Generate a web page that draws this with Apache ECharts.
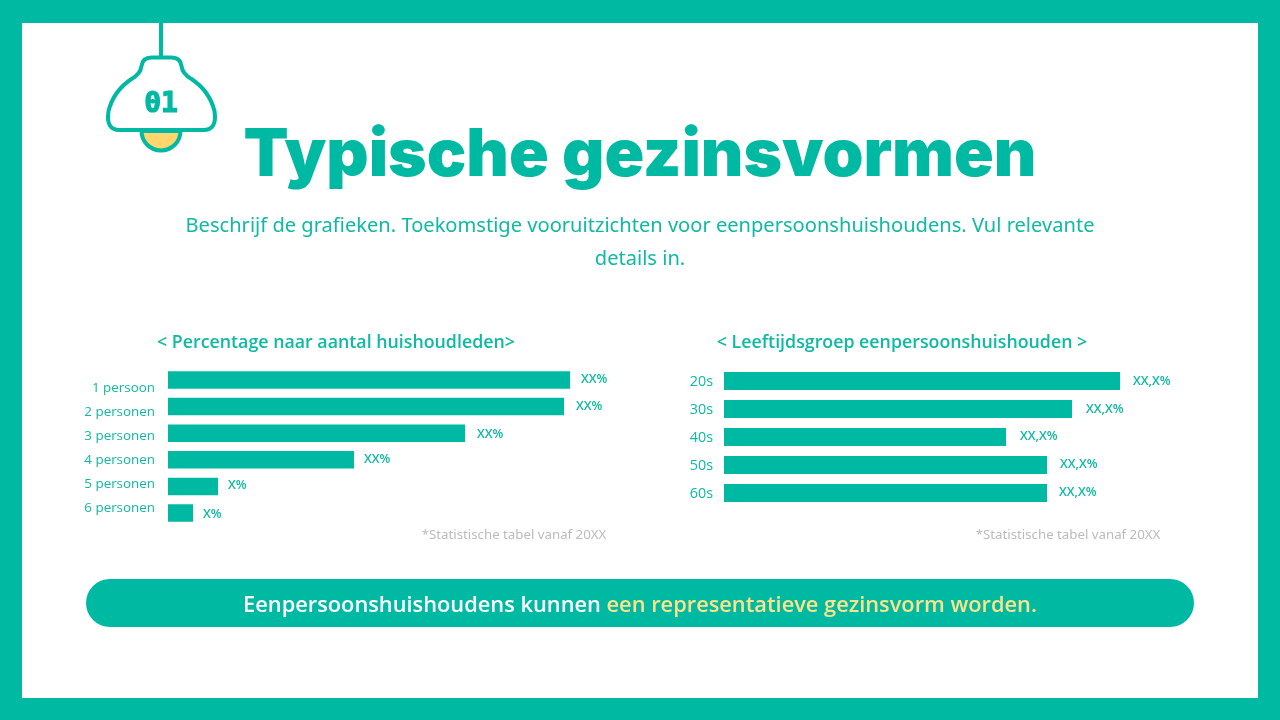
<!DOCTYPE html>
<html>
<head>
<meta charset="utf-8">
<title>Typische gezinsvormen</title>
<style>
html,body{margin:0;padding:0;background:#00b9a3;}
#main{width:1280px;height:720px;}
</style>
<script src="https://cdn.jsdelivr.net/npm/echarts@6/dist/echarts.min.js"></script>
</head>
<body>
<div id="main"></div>
<script>
// chart data
var householdCats = ['1 persoon', '2 personen', '3 personen', '4 personen', '5 personen', '6 personen'];
var householdValues = [40.2, 39.6, 29.7, 18.6, 5.0, 2.5];
var householdLabels = ['XX%', 'XX%', 'XX%', 'XX%', 'X%', 'X%'];

var ageCats = ['20s', '30s', '40s', '50s', '60s'];
var ageValues = [39.6, 34.8, 28.2, 32.3, 32.3];
var ageLabels = ['XX,X%', 'XX,X%', 'XX,X%', 'XX,X%', 'XX,X%'];

// labels in the slide sit a little off the bars
var householdShift = [[1, -1], [2, 0], [2, 1], [0, 0], [0, -1], [0, 1]];
var ageShift = [[3, 0], [4, 0], [4, -1], [3, -1], [2, -1]];

var teal = '#00b9a3';
var textTeal = '#0fb9a2';

var lampShade = 'M151 57.5 L171 57.5 Q180 57.5 181 66 Q182 74 191 79 Q209 91 214 111 Q217 130 203 130 L119 130 Q105 130 108 111 Q113 91 131 79 Q140 74 141 66 Q142 57.5 151 57.5 Z';

function barData(values, labels, shift) {
    var out = [];
    for (var i = 0; i < values.length; ++i) {
        out.push({
            value: values[i],
            label: {
                show: true,
                position: 'right',
                distance: 10,
                offset: shift[i],
                formatter: labels[i],
                color: textTeal,
                fontFamily: 'Open Sans',
                fontSize: 12.5,
                fontWeight: 600
            }
        });
    }
    return out;
}

function hiddenX(idx) {
    return {gridIndex: idx, type: 'value', min: 0, max: 50, show: false};
}

function catAxis(idx, cats, margin, showLabel, size) {
    return {
        gridIndex: idx,
        type: 'category',
        inverse: true,
        data: cats,
        axisLine: {show: false},
        axisTick: {show: false},
        axisLabel: {
            show: showLabel,
            margin: margin,
            color: textTeal,
            fontFamily: 'Open Sans',
            fontSize: size
        }
    };
}

function headText(x, y, str, size, weight, color, font) {
    return {
        left: x, top: y,
        text: str,
        textAlign: 'center',
        textVerticalAlign: 'middle',
        padding: 0,
        textStyle: {color: color, fontSize: size, fontWeight: weight, fontFamily: font || 'Open Sans'}
    };
}

var myChart = echarts.init(document.getElementById('main'), null, {renderer: 'canvas'});

var option = {
    animation: false,
    backgroundColor: teal,
    title: [
        headText(640, 156, 'Typische gezinsvormen', 65.7, 900, teal, 'Inter'),
        headText(640, 226, 'Beschrijf de grafieken. Toekomstige vooruitzichten voor eenpersoonshuishoudens. Vul relevante', 20.1, 400, textTeal, 'Noto Sans'),
        headText(640, 259, 'details in.', 20.1, 400, textTeal, 'Noto Sans'),
        headText(336, 343, '< Percentage naar aantal huishoudleden>', 17.8, 600, textTeal),
        headText(902, 343, '< Leeftijdsgroep eenpersoonshuishouden >', 17.8, 600, textTeal),
        headText(514, 535, '*Statistische tabel vanaf 20XX', 13.25, 400, '#bcbcbc', 'Noto Sans'),
        headText(1068, 535, '*Statistische tabel vanaf 20XX', 13.25, 400, '#bcbcbc', 'Noto Sans')
    ],
    // grids 1 and 3 only carry the category names, which are spaced apart from the bars
    grid: [
        {left: 168, top: 366.7, width: 500, height: 159.6},
        {left: 168, top: 376, width: 500, height: 144},
        {left: 724, top: 367, width: 500, height: 140},
        {left: 724, top: 368, width: 500, height: 140}
    ],
    xAxis: [hiddenX(0), hiddenX(1), hiddenX(2), hiddenX(3)],
    yAxis: [
        catAxis(0, householdCats, 13, false, 13.4),
        catAxis(1, householdCats, 13, true, 13.4),
        catAxis(2, ageCats, 11, false, 14.4),
        catAxis(3, ageCats, 11, true, 14.4)
    ],
    series: [
        {
            type: 'bar',
            xAxisIndex: 0,
            yAxisIndex: 0,
            barWidth: 17.5,
            itemStyle: {color: teal},
            data: barData(householdValues, householdLabels, householdShift)
        },
        {
            type: 'bar',
            xAxisIndex: 2,
            yAxisIndex: 2,
            barWidth: 18,
            itemStyle: {color: teal},
            data: barData(ageValues, ageLabels, ageShift)
        },
        {
            // lamp shade, graphic component has no free path type
            type: 'custom',
            coordinateSystem: 'none',
            silent: true,
            z: 6,
            data: [0],
            renderItem: function () {
                return {
                    type: 'path',
                    shape: {pathData: lampShade, layout: 'cover', x: 108, y: 57.5, width: 107, height: 72.5},
                    style: {fill: '#ffffff', stroke: teal, lineWidth: 4}
                };
            }
        }
    ],
    graphic: [
        // white sheet inside the border
        {type: 'rect', z: -10, shape: {x: 22, y: 23, width: 1236, height: 675}, style: {fill: '#ffffff'}},
        // lamp cord and bulb
        {type: 'line', z: 5, shape: {x1: 161, y1: 23, x2: 161, y2: 57}, style: {stroke: teal, lineWidth: 4}},
        {type: 'sector', z: 5, shape: {cx: 161, cy: 131, r: 19.5, startAngle: 0, endAngle: Math.PI}, style: {fill: '#ffd66e', stroke: teal, lineWidth: 4}},
        {type: 'text', z: 7, style: {x: 161, y: 105, text: '01', align: 'center', verticalAlign: 'middle', fill: teal, stroke: teal, lineWidth: 1.2, font: 'bold 28px "DejaVu Sans Mono"'}},
        // bottom banner
        {type: 'rect', z: 5, shape: {x: 86, y: 579, width: 1108, height: 48, r: 24}, style: {fill: teal}},
        {
            type: 'text', z: 7,
            style: {
                x: 640, y: 605.5,
                align: 'center',
                verticalAlign: 'middle',
                text: '{a|Eenpersoonshuishoudens kunnen }{b|een representatieve gezinsvorm worden.}',
                rich: {
                    a: {fill: '#ffffff', font: '600 21.8px "Open Sans"'},
                    b: {fill: '#fbe38a', font: '600 21.8px "Open Sans"'}
                }
            }
        }
    ]
};

myChart.setOption(option);
window.addEventListener('resize', function () {
    myChart.resize();
});
</script>
</body>
</html>
